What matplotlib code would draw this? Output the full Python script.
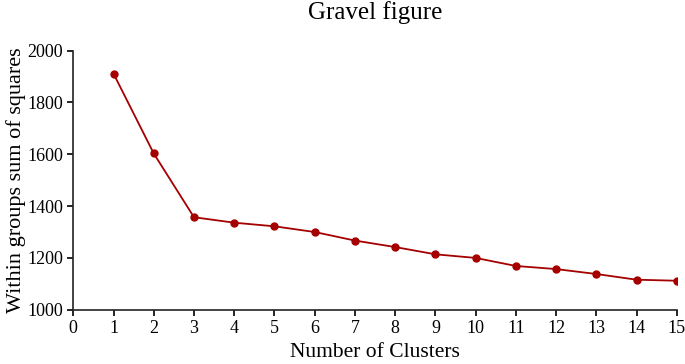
import matplotlib

matplotlib.use("Agg")
import matplotlib.pyplot as plt

clusters = list(range(1, 16))
wss = [1911, 1603, 1357, 1336, 1322, 1300, 1267, 1242, 1214, 1200, 1169, 1157, 1138, 1116, 1112]
x_ticks = list(range(0, 16))
y_ticks = [1000, 1200, 1400, 1600, 1800, 2000]

plt.rcParams["font.family"] = ["Liberation Serif", "DejaVu Serif"]

fig = plt.figure(figsize=(6.85, 3.64), dpi=100)
ax = fig.add_axes([0.107, 0.149, 0.881, 0.712])

ax.plot(clusters, wss, color="#a50000", linewidth=1.3, marker="o", markersize=5)

ax.set_xlim(0, 15)
ax.set_ylim(1000, 2000)
ax.set_xticks(x_ticks)
ax.set_yticks(y_ticks)
ax.tick_params(labelsize=13, length=4, width=1.2, direction="out")
for side in ("top", "right"):
    ax.spines[side].set_visible(False)
for side in ("left", "bottom"):
    ax.spines[side].set_linewidth(1.2)
    ax.spines[side].set_color("#222222")

ax.set_xlabel("Number of Clusters", fontsize=15.5, labelpad=4)
ax.set_ylabel("Within groups sum of squares", fontsize=16, labelpad=1)
ax.set_title("Gravel figure", fontsize=18, pad=23)

fig.savefig("out.png", dpi=100)
